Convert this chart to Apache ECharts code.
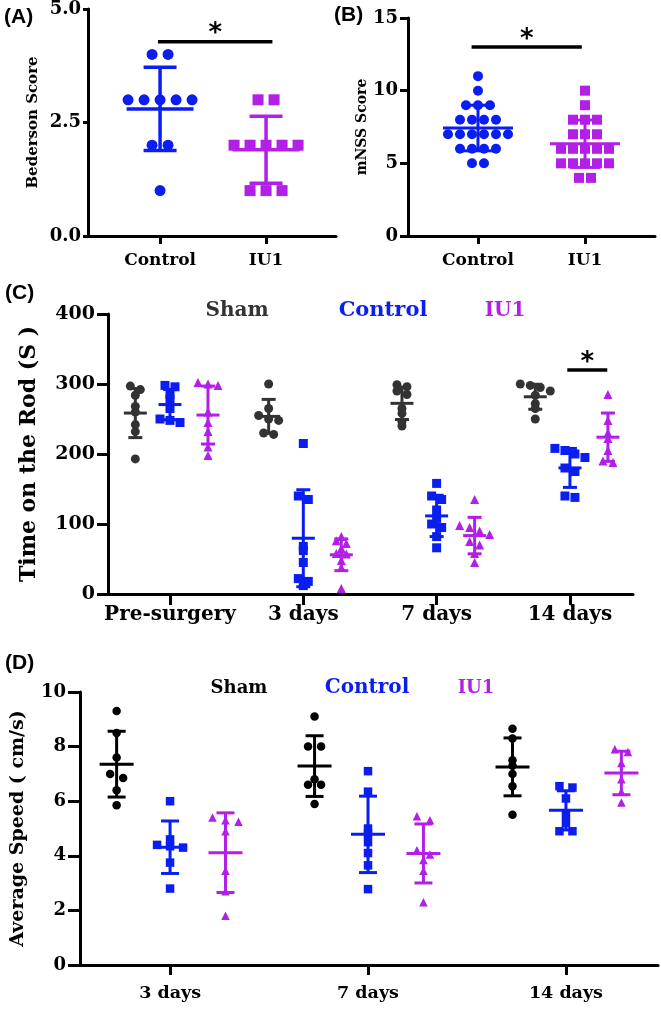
<!DOCTYPE html>
<html><head><meta charset="utf-8">
<script src="https://cdn.jsdelivr.net/npm/echarts@6/dist/echarts.min.js"></script>
<style>html,body{margin:0;padding:0;background:#fff}#c{width:661px;height:1010px}</style>
</head><body><div id="c"></div>
<script>
// ---------- DATA ----------
const abCategories = ['Control', 'IU1'];
const bedersonControl = [4, 4, 3, 3, 3, 3, 3, 2, 2, 1];
const bedersonIU1 = [3, 3, 2, 2, 2, 2, 2, 1, 1, 1];
const mnssControl = [11, 10, 9, 9, 9, 8, 8, 8, 8, 7, 7, 7, 7, 7, 7, 6, 6, 6, 6, 5, 5];
const mnssIU1 = [10, 9, 8, 8, 8, 7, 7, 7, 6, 6, 6, 6, 6, 5, 5, 5, 5, 5, 4, 4];

const rodDays = ['Pre-surgery', '3 days', '7 days', '14 days'];
const rodSham = [
  [297, 292, 284, 268, 260, 242, 232, 193],
  [300, 265, 255, 250, 248, 230, 228],
  [299, 296, 290, 285, 265, 258, 246, 240],
  [300, 298, 295, 290, 284, 272, 265, 250]
];
const rodControl = [
  [298, 296, 285, 278, 265, 250, 248, 245],
  [215, 140, 135, 68, 62, 45, 22, 18, 12],
  [158, 140, 135, 120, 108, 100, 95, 82, 66],
  [208, 205, 200, 195, 180, 175, 140, 138]
];
const rodIU1 = [
  [302, 300, 298, 260, 245, 232, 210, 198],
  [82, 76, 72, 65, 58, 57, 48, 38, 8],
  [135, 98, 95, 90, 85, 75, 70, 58, 45],
  [285, 248, 230, 222, 205, 190, 188]
];

const speedDays = ['3 days', '7 days', '14 days'];
const speedSham = [
  [9.3, 8.5, 7.6, 7.0, 6.85, 6.4, 5.85],
  [9.1, 8.0, 8.0, 6.8, 6.6, 6.6, 5.9],
  [8.65, 8.3, 7.5, 7.3, 7.0, 6.55, 5.5]
];
const speedControl = [
  [6.0, 4.6, 4.4, 4.35, 4.3, 3.75, 2.8],
  [7.1, 6.35, 5.0, 4.8, 4.5, 4.1, 3.65, 2.78],
  [6.55, 6.5, 6.1, 5.5, 5.2, 4.9, 4.9]
];
const speedIU1 = [
  [5.4, 5.3, 5.25, 4.9, 3.45, 2.7, 1.8],
  [5.45, 5.3, 4.2, 4.05, 3.85, 3.45, 2.3],
  [7.9, 7.8, 7.4, 6.8, 6.35, 5.95]
];

const groupNames = ['Sham', 'Control', 'IU1'];
const panelLetters = ['(A)', '(B)', '(C)', '(D)'];
const yNames = ['Bederson Score', 'mNSS Score', 'Time on the Rod (S )', 'Average Speed ( cm/s)'];

// ---------- STYLE ----------
const BLUE = '#0a1ef0', PURPLE = '#b21fe6', DARK = '#333333', BLACK = '#000000';
const SERIF = '"DejaVu Serif", "Liberation Serif", serif';

function mean(a) { return a.reduce((s, v) => s + v, 0) / a.length; }
function sd(a) { const m = mean(a); return Math.sqrt(a.reduce((s, v) => s + (v - m) * (v - m), 0) / (a.length - 1)); }

// dot-plot spreading: points closer than thr px vertically form a row, spread centred
function swarm(vals, pxPerVal, thr, spacing) {
  const idx = vals.map((v, i) => i).sort((a, b) => vals[b] - vals[a]);
  const off = new Array(vals.length).fill(0);
  let cluster = [idx[0]];
  const flush = () => { const n = cluster.length; cluster.forEach((k, j) => { off[k] = (j - (n - 1) / 2) * spacing; }); };
  for (let i = 1; i < idx.length; i++) {
    if ((vals[idx[i - 1]] - vals[idx[i]]) * pxPerVal < thr) cluster.push(idx[i]);
    else { flush(); cluster = [idx[i]]; }
  }
  flush();
  return off;
}

const panels = [
  { grid: { left: 88, top: 8, width: 248, height: 228 }, xMin: -0.68, xMax: 1.66, yMin: 0, yMax: 5, yInt: 2.5,
    cats: abCategories, yFmt: v => v.toFixed(1), tickFont: 18, xFont: 17, xTick: 8, xMargin: 16, yTick: 5,
    nameFont: 15, nameGap: 47,
    sym: 11, spacing: 16, thr: 5, meanW: 67, capW: 33, lw: 3.5,
    groups: [
      { color: BLUE, symbol: 'circle', data: [bedersonControl], pos: [0] },
      { color: PURPLE, symbol: 'rect', data: [bedersonIU1], pos: [1] }
    ],
    sig: [[-0.02, 1.06, 4.28]] },
  { grid: { left: 408, top: 18, width: 247, height: 218 }, xMin: -0.654, xMax: 1.654, yMin: 0, yMax: 15, yInt: 5,
    cats: abCategories, yFmt: v => String(v), tickFont: 18, xFont: 17, xTick: 8, xMargin: 16, yTick: 8,
    nameFont: 14, nameGap: 36,
    sym: 10, spacing: 12, thr: 5, meanW: 70, capW: 30, lw: 3,
    groups: [
      { color: BLUE, symbol: 'circle', data: [mnssControl], pos: [0] },
      { color: PURPLE, symbol: 'rect', data: [mnssIU1], pos: [1] }
    ],
    sig: [[-0.06, 0.97, 13]] },
  { grid: { left: 108, top: 314, width: 525, height: 280 }, xMin: -0.465, xMax: 3.473, yMin: 0, yMax: 400, yInt: 100,
    cats: rodDays, yFmt: v => String(v), tickFont: 19, xFont: 20, xTick: 11, xMargin: 11, yTick: 11,
    nameFont: 22, nameGap: 68,
    sym: 9, spacing: 10, thr: 4, meanW: 23, capW: 14, lw: 3,
    groups: [
      { color: DARK, symbol: 'circle', data: rodSham, off: -0.26 },
      { color: BLUE, symbol: 'rect', data: rodControl, off: 0 },
      { color: PURPLE, symbol: 'triangle', data: rodIU1, off: 0.285 }
    ],
    sig: [[2.98, 3.28, 320]] },
  { grid: { left: 80, top: 692, width: 578, height: 273 }, xMin: -0.455, xMax: 2.465, yMin: 0, yMax: 10, yInt: 2,
    cats: speedDays, yFmt: v => String(v), tickFont: 18, xFont: 17.5, xTick: 10, xMargin: 19, yTick: 12,
    nameFont: 19, nameGap: 52,
    sym: 8.5, spacing: 13, thr: 5, meanW: 34, capW: 18, lw: 3,
    groups: [
      { color: BLACK, symbol: 'circle', data: speedSham, off: -0.27 },
      { color: BLUE, symbol: 'rect', data: speedControl, off: 0 },
      { color: PURPLE, symbol: 'triangle', data: speedIU1, off: 0.28 }
    ],
    sig: [] }
];

const grids = [], xAxes = [], yAxes = [], series = [];
panels.forEach((p, pi) => {
  grids.push(p.grid);
  const pxX = p.grid.width / (p.xMax - p.xMin);
  const pxY = p.grid.height / (p.yMax - p.yMin);
  const catIdx = p.cats.map((c, i) => i);
  xAxes.push({
    type: 'value', gridIndex: pi, min: p.xMin, max: p.xMax, splitLine: { show: false },
    axisLine: { show: true, onZero: false, lineStyle: { color: '#000', width: 3 } },
    axisTick: { show: true, length: p.xTick, customValues: catIdx, lineStyle: { color: '#000', width: 3 } },
    axisLabel: { customValues: catIdx, formatter: v => p.cats[Math.round(v)], color: '#000',
      fontFamily: SERIF, fontWeight: 'bold', fontSize: p.xFont, margin: p.xMargin }
  });
  yAxes.push({
    type: 'value', gridIndex: pi, min: p.yMin, max: p.yMax, interval: p.yInt, splitLine: { show: false },
    name: yNames[pi], nameLocation: 'middle', nameRotate: 90, nameGap: p.nameGap,
    nameTextStyle: { fontFamily: SERIF, fontWeight: 'bold', fontSize: p.nameFont, color: '#000' },
    axisLine: { show: true, onZero: false, lineStyle: { color: '#000', width: 3 } },
    axisTick: { show: true, length: p.yTick, lineStyle: { color: '#000', width: 3 } },
    axisLabel: { formatter: p.yFmt, color: '#000', fontFamily: SERIF, fontWeight: 'bold', fontSize: p.tickFont, margin: p.yTick + 2 }
  });
  p.groups.forEach((g) => {
    const pts = [], bars = [];
    g.data.forEach((vals, ci) => {
      const pos = g.pos ? g.pos[ci] : ci + g.off;
      const offs = swarm(vals, pxY, p.thr, p.spacing);
      vals.forEach((v, k) => pts.push([pos + offs[k] / pxX, v]));
      bars.push([pos, mean(vals), sd(vals)]);
    });
    series.push({
      type: 'scatter', xAxisIndex: pi, yAxisIndex: pi, symbol: g.symbol, symbolSize: p.sym,
      itemStyle: { color: g.color, opacity: 1 }, data: pts, z: 2, silent: true
    });
    series.push({
      type: 'custom', xAxisIndex: pi, yAxisIndex: pi, data: bars, encode: { x: 0, y: 1 }, z: 3, silent: true,
      renderItem: (params, api) => {
        const x = api.value(0), m = api.value(1), s = api.value(2);
        const pm = api.coord([x, m]), pt = api.coord([x, m + s]), pb = api.coord([x, m - s]);
        const st = { stroke: g.color, lineWidth: p.lw };
        return { type: 'group', children: [
          { type: 'line', shape: { x1: pm[0], y1: pt[1], x2: pm[0], y2: pb[1] }, style: st },
          { type: 'line', shape: { x1: pm[0] - p.meanW / 2, y1: pm[1], x2: pm[0] + p.meanW / 2, y2: pm[1] }, style: st },
          { type: 'line', shape: { x1: pm[0] - p.capW / 2, y1: pt[1], x2: pm[0] + p.capW / 2, y2: pt[1] }, style: st },
          { type: 'line', shape: { x1: pm[0] - p.capW / 2, y1: pb[1], x2: pm[0] + p.capW / 2, y2: pb[1] }, style: st }
        ] };
      }
    });
  });
  if (p.sig.length) {
    series.push({
      type: 'custom', xAxisIndex: pi, yAxisIndex: pi, data: p.sig, encode: { x: 0, y: 2 }, z: 4, silent: true,
      renderItem: (params, api) => {
        const a = api.coord([api.value(0), api.value(2)]), b = api.coord([api.value(1), api.value(2)]);
        return { type: 'group', children: [
          { type: 'line', shape: { x1: a[0], y1: a[1], x2: b[0], y2: b[1] }, style: { stroke: '#000', lineWidth: 3.5 } },
          { type: 'text', x: (a[0] + b[0]) / 2, y: a[1] + 6,
            style: { text: '*', font: 'bold 26px "DejaVu Sans"', fill: '#000', align: 'center', verticalAlign: 'bottom' } }
        ] };
      }
    });
  }
});

const txt = (text, x, y, font, fill, align) => ({
  type: 'text', x: x, y: y, silent: true,
  style: { text: text, font: font, fill: fill, align: align || 'center', verticalAlign: 'middle' }
});
const graphic = [
  txt(panelLetters[0], 4, 17, 'bold 21px "Liberation Sans"', '#000', 'left'),
  txt(panelLetters[1], 334, 15, 'bold 21px "Liberation Sans"', '#000', 'left'),
  txt(panelLetters[2], 5, 293, 'bold 21px "Liberation Sans"', '#000', 'left'),
  txt(panelLetters[3], 5, 663, 'bold 21px "Liberation Sans"', '#000', 'left'),
  txt(groupNames[0], 237, 311, 'bold 20px "DejaVu Serif"', DARK),
  txt(groupNames[1], 383, 311, 'bold 21px "DejaVu Serif"', BLUE),
  txt(groupNames[2], 505, 311, 'bold 20px "DejaVu Serif"', PURPLE),
  txt(groupNames[0], 239, 688, 'bold 18px "DejaVu Serif"', BLACK),
  txt(groupNames[1], 367, 688, 'bold 20px "DejaVu Serif"', BLUE),
  txt(groupNames[2], 476, 688, 'bold 18px "DejaVu Serif"', PURPLE)
];

const chart = echarts.init(document.getElementById('c'), null, { renderer: 'canvas' });
chart.setOption({
  animation: false, backgroundColor: '#fff',
  grid: grids, xAxis: xAxes, yAxis: yAxes, series: series, graphic: graphic
});
</script></body></html>
